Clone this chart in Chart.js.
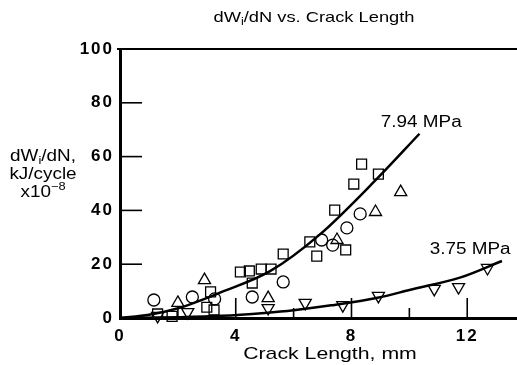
<!DOCTYPE html>
<html><head><meta charset="utf-8">
<script src="https://cdn.jsdelivr.net/npm/chart.js@4"></script>
<style>html,body{margin:0;padding:0;background:#fff}canvas{display:block}</style>
</head><body>
<canvas id="c" width="517" height="365"></canvas>
<script>
// ---- data ----
const squareX = [1.3, 1.8, 3.0, 3.25, 3.13, 4.16, 4.47, 4.88, 5.22, 4.57, 5.64, 6.56, 6.8, 7.8, 7.42, 8.08, 8.35, 8.93];
const squareY = [1.5, 0.6, 4.0, 3.0, 9.7, 17.1, 17.5, 18.2, 18.2, 13.0, 23.8, 28.3, 23.0, 25.3, 40.1, 49.8, 57.2, 53.5];
const circleX = [1.17, 2.5, 3.27, 4.57, 5.64, 6.97, 7.35, 7.84, 8.3];
const circleY = [6.7, 7.8, 7.1, 7.8, 13.4, 29.0, 27.1, 33.5, 38.7];
const triUpX = [2.0, 2.92, 5.12, 7.5, 8.83, 9.7];
const triUpY = [5.6, 14.1, 7.4, 29.0, 39.4, 46.8];
const triDownX = [1.3, 2.34, 5.12, 6.4, 7.7, 8.93, 10.86, 11.7, 12.7];
const triDownY = [0.8, 2.2, 3.7, 5.6, 4.8, 8.2, 10.8, 11.5, 18.6];
const fit794X = [0, 1, 2, 3.5, 5.2, 6.9, 8.9, 10.35];
const fit794Y = [0, 1.2, 3.6, 9.6, 17.5, 31, 52, 68.5];
const fit375X = [0, 2, 3.5, 5, 6, 7.3, 8.9, 10, 11.8, 13.2];
const fit375Y = [0, 0.3, 0.8, 1.9, 2.9, 4.7, 7.5, 10.4, 15.2, 21.2];
const curveLabels = ['7.94 MPa', '3.75 MPa'];
const curveLabelX = [10.41, 12.1];
const curveLabelY = [72.5, 25.3];
const xMajorTicks = [0, 4, 8, 12];
const xMinorTicks = [2, 6, 10];
const yMajorTicks = [0, 20, 40, 60, 80, 100];

const FAMILY = "'Liberation Sans', Arial, Helvetica, sans-serif";
const pts = (xs, ys) => xs.map((x, i) => ({x, y: ys[i]}));

function drawRich(ctx, segs, cx, cy, size, sx, weight) {
  ctx.save();
  ctx.letterSpacing = '0px';
  const fontOf = s => `${weight || 'normal'} ${s}px ${FAMILY}`;
  let total = 0;
  const parts = segs.map(s => {
    const sz = (s.sub || s.sup) ? size * 0.68 : size;
    ctx.font = fontOf(sz);
    const w = ctx.measureText(s.t).width;
    total += w;
    return Object.assign({}, s, {sz, w});
  });
  ctx.translate(cx, cy);
  ctx.scale(sx, 1);
  ctx.textBaseline = 'middle';
  ctx.textAlign = 'left';
  ctx.fillStyle = '#000';
  let x = -total / 2;
  for (const p of parts) {
    ctx.font = fontOf(p.sz);
    const dy = p.sub ? size * 0.28 : p.sup ? -size * 0.35 : 0;
    ctx.fillText(p.t, x, dy);
    x += p.w;
  }
  ctx.restore();
}

const decor = {
  id: 'decor',
  beforeDraw(chart) { chart.ctx.letterSpacing = '2px'; },
  afterDraw(chart) {
    const {ctx, chartArea: a, scales: {x, y}} = chart;
    ctx.save();
    ctx.letterSpacing = '0px';
    ctx.setLineDash([]);
    ctx.strokeStyle = '#000';
    ctx.lineWidth = 2;
    ctx.beginPath(); ctx.moveTo(a.left - 3, a.top); ctx.lineTo(a.right, a.top); ctx.stroke();
    ctx.lineWidth = 1.6;
    yMajorTicks.forEach(v => {
      const py = y.getPixelForValue(v);
      ctx.beginPath(); ctx.moveTo(a.left, py); ctx.lineTo(a.left + 22, py); ctx.stroke();
    });
    xMajorTicks.forEach(v => {
      const px = x.getPixelForValue(v);
      ctx.beginPath(); ctx.moveTo(px, a.bottom); ctx.lineTo(px, a.bottom - 20); ctx.stroke();
    });
    xMinorTicks.forEach(v => {
      const px = x.getPixelForValue(v);
      ctx.beginPath(); ctx.moveTo(px, a.bottom); ctx.lineTo(px, a.bottom - 10); ctx.stroke();
    });
    ctx.restore();
    // titles and curve labels
    drawRich(ctx, [{t: 'dW'}, {t: 'i', sub: true}, {t: '/dN vs. Crack Length'}], 314, 18, 15, 1.22);
    drawRich(ctx, [{t: 'dW'}, {t: 'i', sub: true}, {t: '/dN,'}], 43, 157, 16, 1.18);
    drawRich(ctx, [{t: 'kJ/cycle'}], 43, 175, 16, 1.18);
    drawRich(ctx, [{t: 'x10'}, {t: '\u22128', sup: true}], 43, 193, 16, 1.18);
    drawRich(ctx, [{t: 'Crack Length, mm'}], 330, 354, 17, 1.25);
    curveLabels.forEach((t, i) => {
      drawRich(ctx, [{t}], x.getPixelForValue(curveLabelX[i]), y.getPixelForValue(curveLabelY[i]), 16, 1.18);
    });
  }
};

const markerBase = {showLine: false, borderColor: '#000', backgroundColor: 'rgba(0,0,0,0)', borderWidth: 1.3, clip: false, pointHoverRadius: 7};

new Chart(document.getElementById('c'), {
  type: 'scatter',
  data: {
    datasets: [
      {label: '7.94 MPa', data: pts(fit794X, fit794Y), showLine: true, borderColor: '#000', borderWidth: 2.5, pointRadius: 0, cubicInterpolationMode: 'monotone', fill: false},
      {label: '3.75 MPa', data: pts(fit375X, fit375Y), showLine: true, borderColor: '#000', borderWidth: 2.5, pointRadius: 0, cubicInterpolationMode: 'monotone', fill: false},
      Object.assign({label: 'squares', data: pts(squareX, squareY), pointStyle: 'rect', pointRadius: 7}, markerBase),
      Object.assign({label: 'circles', data: pts(circleX, circleY), pointStyle: 'circle', pointRadius: 6}, markerBase),
      Object.assign({label: 'triangles', data: pts(triUpX, triUpY), pointStyle: 'triangle', pointRadius: 7}, markerBase),
      Object.assign({label: 'inverted triangles', data: pts(triDownX, triDownY), pointStyle: 'triangle', rotation: 180, pointRadius: 7}, markerBase)
    ]
  },
  options: {
    responsive: false,
    animation: false,
    devicePixelRatio: 1,
    layout: {autoPadding: false, padding: {top: 49, left: 0, right: 0, bottom: 0}},
    plugins: {legend: {display: false}, tooltip: {enabled: false}, title: {display: false}},
    scales: {
      x: {
        type: 'linear', min: 0, max: 13.72,
        grid: {display: false, drawTicks: false},
        border: {display: true, width: 3, color: '#000'},
        ticks: {color: '#000', padding: 8, maxRotation: 0, autoSkip: false,
          font: {family: FAMILY, size: 17, weight: 'bold'},
          callback: v => String(v)},
        afterBuildTicks: s => { s.ticks = xMajorTicks.map(v => ({value: v})); },
        afterFit: s => { s.height = 47; s.paddingLeft = 0; s.paddingRight = 0; }
      },
      y: {
        type: 'linear', min: 0, max: 100,
        grid: {display: false, drawTicks: false},
        border: {display: true, width: 3, color: '#000'},
        ticks: {color: '#000', padding: 6,
          font: {family: FAMILY, size: 17, weight: 'bold'},
          callback: v => String(v)},
        afterBuildTicks: s => { s.ticks = yMajorTicks.map(v => ({value: v})); },
        afterFit: s => { s.width = 120; s.paddingTop = 0; s.paddingBottom = 0; }
      }
    }
  },
  plugins: [decor]
});
</script>
</body></html>
